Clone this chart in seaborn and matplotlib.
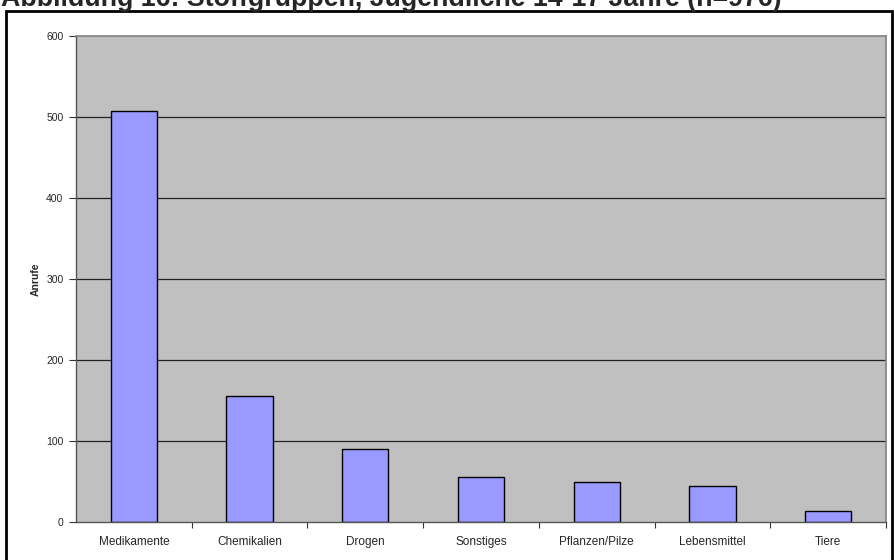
import numpy as np
import pandas as pd
import seaborn as sns
import matplotlib.pyplot as plt
from matplotlib.patches import Rectangle

categories = ['Medikamente', 'Chemikalien', 'Drogen', 'Sonstiges',
              'Pflanzen/Pilze', 'Lebensmittel', 'Tiere']
anrufe = [508, 155, 90, 56, 49, 45, 14]
y_ticks = [0, 100, 200, 300, 400, 500, 600]
title = 'Abbildung 16: Stoffgruppen, Jugendliche 14-17 Jahre (n=976)'

df = pd.DataFrame({'Stoffgruppe': categories, 'Anrufe': anrufe})

sns.set_style('white')
plt.rcParams['font.family'] = ['Liberation Sans', 'DejaVu Sans']

fig = plt.figure(figsize=(8.94, 5.6), dpi=100)
ax = fig.add_axes([76 / 894, 38 / 560, 810 / 894, 486 / 560])
ax.set_facecolor('#C0C0C0')

# horizontal gridlines in black, behind the bars
for t in y_ticks[1:-1]:
    ax.axhline(t, color='#222222', linewidth=0.9, zorder=0.5)

sns.barplot(data=df, x='Stoffgruppe', y='Anrufe', color='#9999FF',
            edgecolor='black', linewidth=1.0, width=0.4, saturation=1,
            ax=ax, zorder=2)

ax.set_ylim(0, 600)
ax.set_xlim(-0.5, len(categories) - 0.5)
ax.set_yticks(y_ticks)
ax.set_yticklabels([str(t) for t in y_ticks], fontsize=7.5)
ax.set_xticks(range(len(categories)))
ax.set_xticklabels(categories, fontsize=8.5)
ax.set_xticks(np.arange(0.5, len(categories), 1.0), minor=True)
ax.tick_params(axis='x', which='major', length=0, pad=10)
ax.tick_params(axis='x', which='minor', length=4, width=0.8, color='#333333',
               direction='out', bottom=True)
ax.tick_params(axis='y', which='major', length=5, width=0.8, color='#333333',
               direction='out', left=True, pad=4)

ax.set_xlabel('')
ax.set_ylabel('Anrufe', fontsize=7.5, fontweight='bold', labelpad=4)

for side in ['top', 'right']:
    ax.spines[side].set_color('#808080')
    ax.spines[side].set_linewidth(1.2)
for side in ['left', 'bottom']:
    ax.spines[side].set_color('#555555')
    ax.spines[side].set_linewidth(1.0)

# outer chart frame
fig.patches.append(Rectangle((6 / 894, -0.05), 886 / 894, 1.05 - 11 / 560,
                             transform=fig.transFigure, fill=False,
                             edgecolor='black', linewidth=2.0))

fig.text(1 / 894, 1 - 6 / 560, title, fontsize=19.3, fontweight='bold',
         ha='left', va='baseline')

fig.savefig('out.png', dpi=100)
